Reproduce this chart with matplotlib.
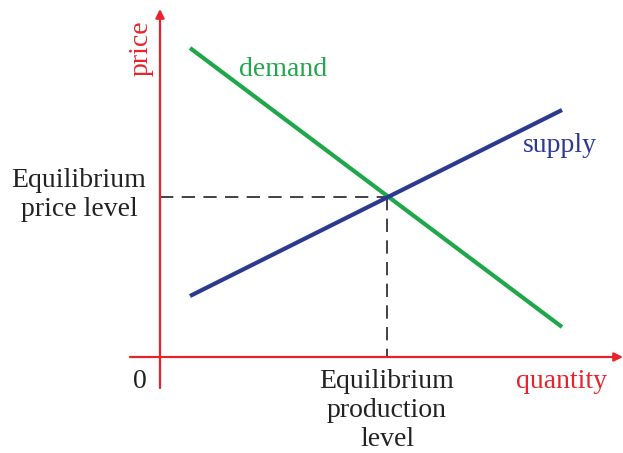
import matplotlib.pyplot as plt

# data (x = quantity, y = price), arbitrary units
demand_x = [3.0, 40.2]
demand_y = [30.9, 3.0]
supply_x = [3.0, 40.2]
supply_y = [6.1, 24.7]
eq_x = 22.7
eq_y = 16.0

red = '#e8232b'
green = '#20a64b'
blue = '#2b3990'
plt.rcParams['font.family'] = ['Liberation Serif', 'DejaVu Serif']

fig = plt.figure(figsize=(6.23, 4.53), dpi=100)
ax = fig.add_axes([0, 0, 1, 1])
ax.set_xlim(-16, 46.3)
ax.set_ylim(-9.6, 35.7)
ax.axis('off')

# axes with arrows
ax.annotate('', xy=(0, 34.8), xytext=(0, -3.1), annotation_clip=False,
            arrowprops=dict(arrowstyle='-|>', color=red, lw=1.6, mutation_scale=13, shrinkA=0, shrinkB=0))
ax.annotate('', xy=(46.3, 0), xytext=(-3.0, 0), annotation_clip=False,
            arrowprops=dict(arrowstyle='-|>', color=red, lw=1.6, mutation_scale=13, shrinkA=0, shrinkB=0))

# equilibrium guides
ax.plot([0, eq_x], [eq_y, eq_y], color='#222222', lw=1.2, dashes=(8, 5))
ax.plot([eq_x, eq_x], [eq_y, 0], color='#222222', lw=1.2, dashes=(8, 5))

ax.plot(demand_x, demand_y, color=green, lw=3, solid_capstyle='butt')
ax.plot(supply_x, supply_y, color=blue, lw=3, solid_capstyle='butt')

fs = 20
ax.text(-1.9, 30.9, 'price', color=red, fontsize=fs, rotation=90, ha='center', va='center')
ax.text(12.3, 28.7, 'demand', color=green, fontsize=fs, ha='center', va='center')
ax.text(40.0, 21.2, 'supply', color=blue, fontsize=fs, ha='center', va='center')
ax.text(-2.0, -2.4, '0', color='#222222', fontsize=fs, ha='center', va='center')
ax.text(40.1, -2.4, 'quantity', color=red, fontsize=fs, ha='center', va='center')
ax.text(-8.1, 16.2, 'Equilibrium\nprice level', color='#222222', fontsize=fs,
        ha='center', va='center', linespacing=1.22)
ax.text(eq_x, -1.2, 'Equilibrium\nproduction\nlevel', color='#222222', fontsize=fs,
        ha='center', va='top', linespacing=1.22)

fig.savefig('out.png', dpi=100)
